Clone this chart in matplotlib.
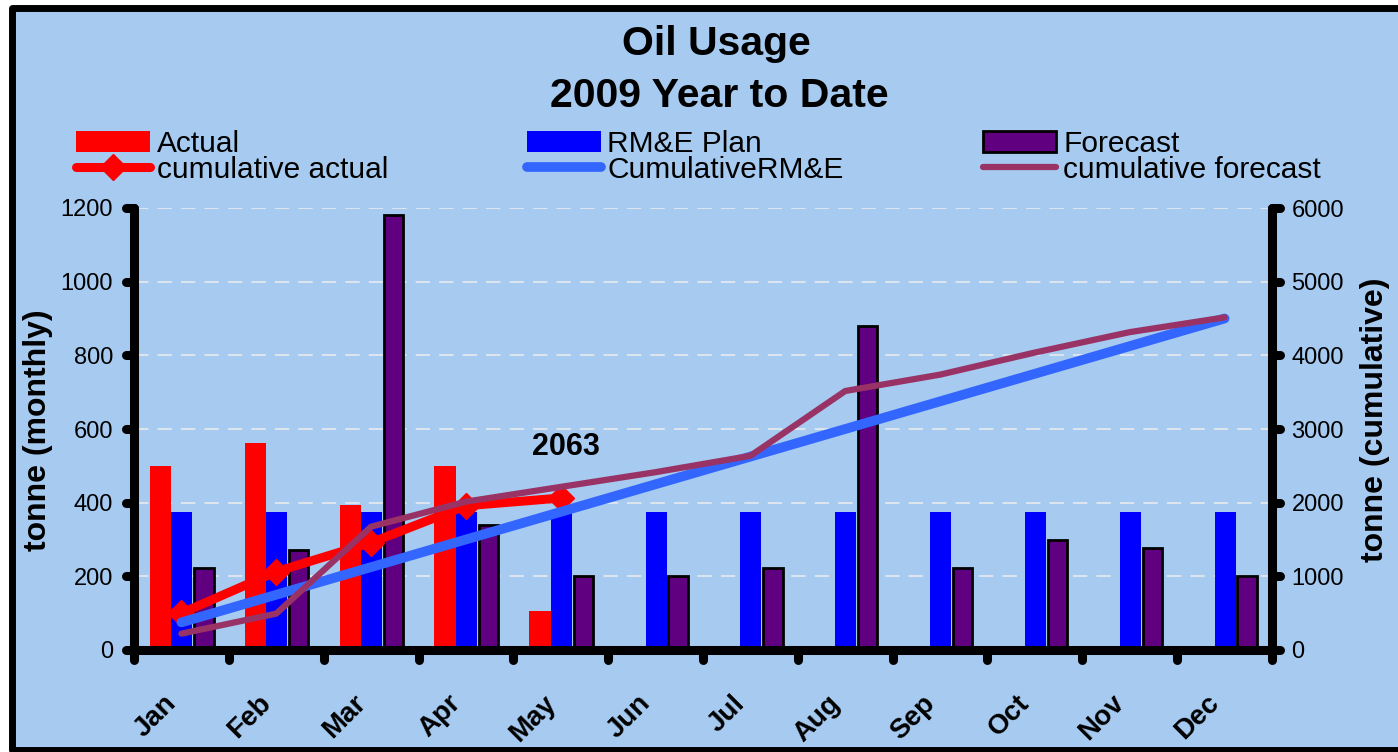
import numpy as np
import matplotlib
matplotlib.use('Agg')
import matplotlib.pyplot as plt
from matplotlib.patches import Rectangle
from matplotlib.markers import MarkerStyle
from matplotlib import lines as mlines
from matplotlib.transforms import ScaledTranslation

plt.rcParams['font.family'] = ['Liberation Sans', 'DejaVu Sans']

months = ['Jan', 'Feb', 'Mar', 'Apr', 'May', 'Jun', 'Jul', 'Aug', 'Sep', 'Oct', 'Nov', 'Dec']
actual = [500, 563, 395, 500, 105]
plan = [375, 375, 375, 375, 375, 375, 375, 375, 375, 375, 375, 375]
forecast = [222, 272, 1180, 340, 200, 200, 222, 880, 222, 300, 277, 200]
cum_actual = [500, 1063, 1458, 1958, 2063]
cum_plan = [375, 750, 1125, 1500, 1875, 2250, 2625, 3000, 3375, 3750, 4125, 4500]
cum_forecast = [222, 494, 1674, 2014, 2214, 2414, 2636, 3516, 3738, 4038, 4315, 4515]

W, H = 1398, 752
bg = '#A6CAF0'

fig = plt.figure(figsize=(W / 100, H / 100), dpi=100)
fig.patch.set_facecolor('white')

# outer chart frame (open on the right, like the source)
frame = Rectangle((11.5 / W, 2 / H), 1.2, 1 - 10 / H, transform=fig.transFigure,
                  facecolor=bg, edgecolor='black', lw=5, joinstyle='round',
                  zorder=-1, clip_on=False)
fig.add_artist(frame)

ax = fig.add_axes([134 / W, 1 - 650 / H, (1272 - 134) / W, (650 - 208) / H])
ax.set_facecolor('none')
ax2 = ax.twinx()

x = np.arange(len(months))
xa = x[:len(actual)]

ax.bar(xa - 0.22, actual, 0.225, color='#FF0000', lw=0, label='Actual', zorder=2)
ax.bar(x + 0.005, plan, 0.222, color='#0000FF', lw=0, label='RM&E Plan', zorder=2)
ax.bar(x + 0.237, forecast, 0.205, color='#600080', edgecolor='black', lw=2,
       label='Forecast', zorder=2)

l1, = ax2.plot(xa, cum_actual, color='#FF0000', lw=6.5, marker='D', ms=13,
               solid_capstyle='round', solid_joinstyle='round', label='cumulative actual')
l2, = ax2.plot(x, cum_plan, color='#3366FF', lw=7,
               solid_capstyle='round', solid_joinstyle='round', label='CumulativeRM&E')
l3, = ax2.plot(x, cum_forecast, color='#993366', lw=4.5,
               solid_capstyle='round', solid_joinstyle='round', label='cumulative forecast')

ax2.annotate(str(cum_actual[-1]), xy=(xa[-1], cum_actual[-1]), xytext=(4, 37),
             textcoords='offset points', ha='center', va='center',
             fontsize=22, fontweight='bold')

# axes limits and ticks
ax.set_xlim(-0.5, len(months) - 0.5)
ax.set_ylim(0, 1200)
ax2.set_ylim(0, 6000)
ax.set_yticks(np.arange(0, 1201, 200))
ax2.set_yticks(np.arange(0, 6001, 1000))
ax.set_xticks(np.arange(-0.5, len(months), 1))
ax.set_xticklabels([])
ax.set_xticks(x, minor=True)
ax.set_xticklabels(months, minor=True, rotation=45, ha='right', va='top',
                   fontsize=20, fontweight='bold')
off = ScaledTranslation(-16 / 72, 0, fig.dpi_scale_trans)
for lab in ax.get_xticklabels(minor=True):
    lab.set_transform(lab.get_transform() + off)

ax.tick_params(axis='x', which='major', direction='out', length=7, width=6.5, color='black')
ax.tick_params(axis='x', which='minor', length=0, pad=29)
ax.tick_params(axis='y', direction='out', length=6, width=6.5, labelsize=17, pad=9)
ax2.tick_params(axis='y', direction='out', length=6, width=6.5, labelsize=17, pad=8)

for s in ['top', 'right']:
    ax.spines[s].set_visible(False)
for s in ['top', 'left', 'bottom']:
    ax2.spines[s].set_visible(False)
for sp in [ax.spines['left'], ax.spines['bottom'], ax2.spines['right']]:
    sp.set_linewidth(6.5)
    sp.set_capstyle('round')

ax.set_axisbelow(True)
ax.yaxis.grid(True, color='#E2E7EE', lw=1.3, linestyle=(0, (8, 5)))

# rounded tick ends
for t in ax.xaxis.get_major_ticks():
    t.tick1line.set_marker(MarkerStyle(mlines.TICKDOWN, capstyle='round'))
for t in ax.yaxis.get_major_ticks():
    t.tick1line.set_marker(MarkerStyle(mlines.TICKLEFT, capstyle='round'))
for t in ax2.yaxis.get_major_ticks():
    t.tick2line.set_marker(MarkerStyle(mlines.TICKRIGHT, capstyle='round'))

ax.set_ylabel('tonne (monthly)', fontsize=23, fontweight='bold')
ax.yaxis.set_label_coords(-0.0712, 0.498)
ax2.set_ylabel('tonne (cumulative)', fontsize=23, fontweight='bold')
ax2.yaxis.set_label_coords(1.0773, 0.52)

fig.text(716 / W, 1 - 44 / H, 'Oil Usage', ha='center', va='center',
         fontsize=29.5, fontweight='bold')
fig.text(719 / W, 1 - 96 / H, '2009 Year to Date', ha='center', va='center',
         fontsize=29.5, fontweight='bold')

hb, lb = ax.get_legend_handles_labels()
handles = [hb[0], l1, hb[1], l2, hb[2], l3]
labels = [h.get_label() for h in handles]
fig.legend(handles, labels, ncol=3, loc='upper left',
           bbox_to_anchor=(76 / W, 1 - 130 / H), frameon=False, fontsize=21.5,
           borderpad=0, borderaxespad=0, handlelength=2.47, handletextpad=0.23,
           columnspacing=4.65, labelspacing=-0.08, numpoints=1)

fig.savefig('out.png', dpi=100, facecolor=fig.get_facecolor())
